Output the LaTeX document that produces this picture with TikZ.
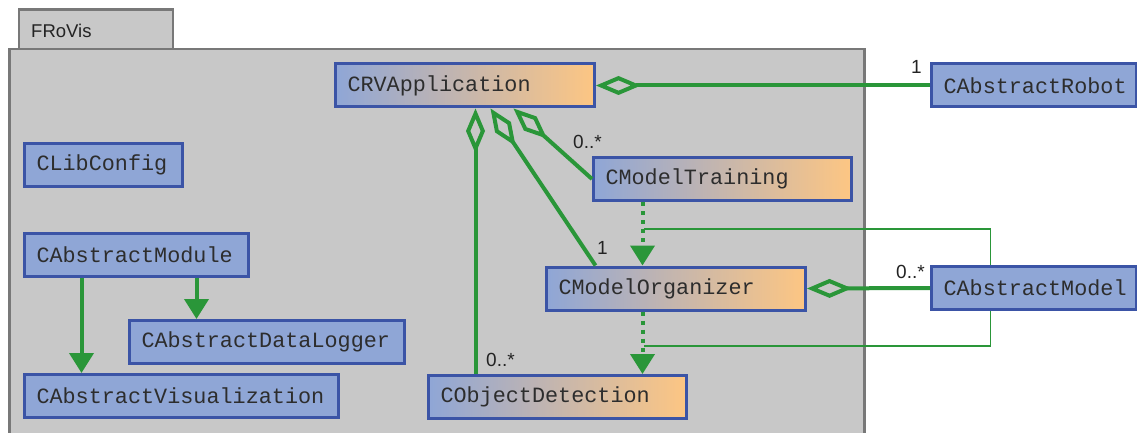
\documentclass[tikz,border=0pt]{standalone}
\usepackage{fontspec}
\setmainfont{Liberation Sans}
\setmonofont{Liberation Mono}
\usetikzlibrary{arrows.meta,calc}

\definecolor{pkgfill}{RGB}{200,200,200}
\definecolor{pkgline}{RGB}{120,120,120}
\definecolor{clsblue}{RGB}{143,166,214}
\definecolor{clsorange}{RGB}{253,198,131}
\definecolor{clsline}{RGB}{59,84,166}
\definecolor{clstext}{RGB}{45,45,45}
\definecolor{umlgreen}{RGB}{42,150,57}
\definecolor{lbltext}{RGB}{35,35,35}

\begin{document}
\begin{tikzpicture}[x=1pt,y=-1pt,
  pkg/.style={draw=pkgline, fill=pkgfill, line width=2.6pt},
  cls/.style={draw=clsline, line width=3pt, fill=clsblue, minimum height=43pt,
    inner xsep=12pt, inner ysep=0pt, text=clstext, align=left,
    font=\ttfamily\fontsize{21.8}{24}\selectfont},
  gcls/.style={cls, left color=clsblue, right color=clsorange},
  agg/.style={draw=umlgreen, line width=4pt,
    -{Diamond[open, length=45pt, width=19pt]}},
  gen/.style={draw=umlgreen, line width=4pt,
    -{Triangle[length=20pt, width=24pt]}},
  dep/.style={draw=umlgreen, line width=4pt, dash pattern=on 4pt off 5pt,
    -{Triangle[length=20pt, width=24pt]}},
  link/.style={draw=umlgreen, line width=1.3pt},
  mult/.style={font=\fontsize{19}{20}\selectfont, text=lbltext, inner sep=0pt, anchor=base west}
]
\useasboundingbox (0,0) rectangle (1137,433);
\fill[white] (0,0) rectangle (1137,433);

% package frame with its tab
\draw[pkg] (19,9.5) rectangle (173,49);
\draw[pkg] (9.5,49) rectangle (864.5,460);
\node[font=\fontsize{18.5}{20}\selectfont, text=lbltext, inner sep=0pt, anchor=base west] (pkgname) at (31,37.5) {FRoVis};

% classes
\node[gcls, text width=235pt] (app)     at (465,85.5)  {CRVApplication};
\node[cls,  text width=181pt] (robot)   at (1034,85.5) {CAbstractRobot};
\node[gcls, text width=234pt] (train)   at (722.5,179) {CModelTraining};
\node[gcls, text width=235pt] (org)     at (676,288.5) {CModelOrganizer};
\node[cls,  text width=181pt] (amodel)  at (1034,288)  {CAbstractModel};
\node[gcls, text width=234pt] (objdet)  at (557.5,397) {CObjectDetection};
\node[cls,  text width=134pt] (libconf) at (103.5,165) {CLibConfig};
\node[cls,  text width=200pt] (amodule) at (136.5,255) {CAbstractModule};
\node[cls,  text width=251pt] (logger)  at (267,342)   {CAbstractDataLogger};
\node[cls,  text width=290pt] (vis)     at (181.5,396) {CAbstractVisualization};

% association-class links
\coordinate (j1) at (644,229);
\coordinate (j2) at (644,346);
\draw[link] (j1) -| ([xshift=60.5pt]amodel.north west);
\draw[link] (j2) -| ([xshift=60.5pt]amodel.south west);

% aggregations
\draw[agg] (robot.west) -- (app.east);
\draw[agg] (amodel.west) -- (org.east);
\draw[agg] ([xshift=48.5pt]objdet.north west) -- ([xshift=48.5pt]objdet.north west |- app.south);
\draw[agg] ([xshift=50.5pt]org.north west) -- ([xshift=156.5pt]app.south west);
\draw[agg] (train.west) -- ([xshift=179.5pt]app.south west);

% dependencies
\draw[dep] ([xshift=50.5pt]train.south west) -- ([xshift=50.5pt]train.south west |- org.north);
\draw[dep] ([xshift=97.5pt]org.south west) -- ([xshift=97.5pt]org.south west |- objdet.north);

% generalisations
\draw[gen] ([xshift=58.5pt]amodule.south west) -- ([xshift=58.5pt]amodule.south west |- vis.north);
\draw[gen] ([xshift=173.5pt]amodule.south west) -- ([xshift=173.5pt]amodule.south west |- logger.north);

% multiplicities
\node[mult] (m1) at (911,74)  {1};
\node[mult] (m2) at (896,278) {0..*};
\node[mult] (m3) at (573,149) {0..*};
\node[mult] (m4) at (597,254) {1};
\node[mult] (m5) at (486,366) {0..*};
\end{tikzpicture}
\end{document}
